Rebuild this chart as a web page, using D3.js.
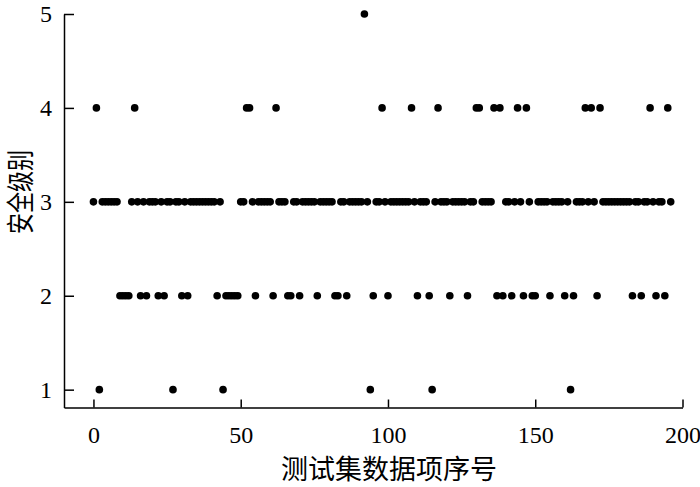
<!DOCTYPE html>
<html>
  <head>
    <meta charset="utf-8">
    <title>安全级别散点图</title>
    <script type="text/javascript" src="https://cdn.jsdelivr.net/npm/d3@7/dist/d3.min.js"></script>
    <style type="text/css">
      body { margin: 0; background: #fff; }
    </style>
  </head>
  <body>
    <script type="text/javascript">
      // SVG 宽高
      var w = 700;
      var h = 487;

      // 每个测试集数据项（序号 0..196）的安全级别
      var levels = [
        3,4,1,3,3,3,3,3,3,2, 2,2,2,3,4,3,2,3,2,3,
        3,3,2,3,2,3,3,1,3,3, 2,3,2,3,3,3,3,3,3,3,
        3,3,2,3,1,2,2,2,2,2, 3,3,4,4,3,2,3,3,3,3,
        3,2,4,3,3,3,2,2,3,3, 2,3,3,3,3,3,2,3,3,3,
        3,3,2,2,3,3,2,3,3,3, 3,3,5,3,1,2,3,3,4,3,
        2,3,3,3,3,3,3,3,4,3, 2,3,3,3,2,1,3,4,3,3,
        3,2,3,3,3,3,3,2,3,3, 4,4,3,3,3,3,4,2,4,2,
        3,3,2,3,4,3,2,4,3,2, 2,3,3,3,3,2,3,3,3,3,
        2,3,1,2,3,3,3,4,3,4, 3,2,4,3,3,3,3,3,3,3,
        3,3,3,2,3,3,2,3,3,4, 3,2,3,3,2,4,3
      ];
      var xTicks = [0, 50, 100, 150, 200];
      var yTicks = [1, 2, 3, 4, 5];
      var xTitle = "测试集数据项序号";
      var yTitle = "安全级别";

      var numFont = "'Liberation Serif', 'Times New Roman', serif";
      var cjkFont = "'Noto Sans CJK SC', sans-serif";

      // 创建SVG
      var svg = d3.select("body")
                  .append("svg")
                  .attr("width", w)
                  .attr("height", h);

      // 比例尺：x 轴留出 -10 的左边距，y 轴底部略低于 1
      var xScale = d3.scaleLinear().domain([-10, 200]).range([64, 682.5]);
      var yScale = d3.scaleLinear().domain([0.81, 5]).range([407.5, 14]);

      // 刻度朝内，整数标签
      var xAxis = d3.axisBottom(xScale)
                    .tickValues(xTicks)
                    .tickFormat(d3.format("d"))
                    .tickSizeInner(-8)
                    .tickSizeOuter(0)
                    .tickPadding(18);
      var yAxis = d3.axisLeft(yScale)
                    .tickValues(yTicks)
                    .tickFormat(d3.format("d"))
                    .tickSizeInner(-10)
                    .tickSizeOuter(0)
                    .tickPadding(12);

      var gx = svg.append("g")
                  .attr("transform", "translate(0," + yScale(0.81) + ")")
                  .call(xAxis);
      var gy = svg.append("g")
                  .attr("transform", "translate(" + xScale(-10) + ",0)")
                  .call(yAxis);

      [gx, gy].forEach(function(g) {
        g.attr("font-family", numFont).attr("font-size", 24);
        g.selectAll("path, line").attr("stroke", "#000").attr("stroke-width", 1.5);
        g.selectAll("text").attr("fill", "#000");
      });

      // 散点
      svg.selectAll("circle")
         .data(levels)
         .enter()
         .append("circle")
         .attr("cx", function(d, i) { return xScale(i); })
         .attr("cy", function(d) { return yScale(d); })
         .attr("r", 3.8)
         .attr("fill", "#000");

      // 坐标轴标题
      svg.append("text")
         .text(xTitle)
         .attr("x", 389)
         .attr("y", 467)
         .attr("text-anchor", "middle")
         .attr("dominant-baseline", "central")
         .attr("font-family", cjkFont)
         .attr("font-size", 27)
         .attr("fill", "#000");

      svg.append("text")
         .text(yTitle)
         .attr("transform", "translate(19,192) rotate(-90) scale(0.75,1)")
         .attr("text-anchor", "middle")
         .attr("dominant-baseline", "central")
         .attr("font-family", cjkFont)
         .attr("font-size", 28)
         .attr("fill", "#000");
    </script>
  </body>
</html>
